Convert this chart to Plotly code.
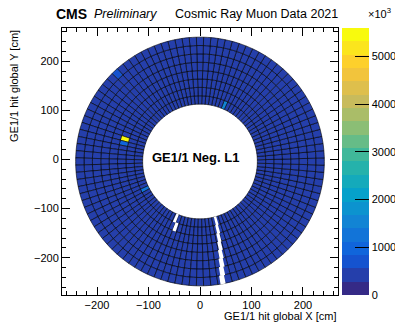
import numpy as np
import plotly.graph_objects as go

# ---------------- data ----------------
N_CHAMBERS = 36          # 10 deg each
N_VFAT_PHI = 3           # VFAT columns per chamber
N_ETA = 8                # eta partitions
R_INNER = 113.0          # cm
R_OUTER = 245.0          # cm
PHI_START = -75.0        # deg, first column edge
BASE_HITS = 420          # typical hits per VFAT cell
# (column index, eta row, hits) for cells that differ from the base level
hot_cells = [(71, 2, 5600), (72, 2, 900), (62, 7, 800), (84, 0, 1300), (42, 0, 1500)]
# dead / uncovered strips: (eta row, phi centre deg, width deg)
dead_regions = [(0, -74.8, 2.4), (1, -75.4, 2.4), (2, -76.1, 2.4), (3, -76.7, 2.4),
                (4, -77.4, 2.4), (5, -78.0, 2.4), (6, -78.7, 2.4), (7, -79.3, 2.4),
                (0, -113.0, 2.6), (1, -110.5, 2.6)]
Z_MAX = 5600
cbar_ticks = [0, 1000, 2000, 3000, 4000, 5000]

# ---------------- ROOT kBird palette, 20 contour levels ----------------
bird_stops = [0.0, 0.125, 0.25, 0.375, 0.5, 0.625, 0.75, 0.875, 1.0]
bird_r = [0.2082, 0.0592, 0.0780, 0.0232, 0.1802, 0.5301, 0.8186, 0.9956, 0.9764]
bird_g = [0.1664, 0.3599, 0.5041, 0.6419, 0.7178, 0.7492, 0.7328, 0.7862, 0.9832]
bird_b = [0.5293, 0.8684, 0.8385, 0.7914, 0.6425, 0.4662, 0.3499, 0.1968, 0.0539]


def bird(f):
    r = np.interp(f, bird_stops, bird_r)
    g = np.interp(f, bird_stops, bird_g)
    b = np.interp(f, bird_stops, bird_b)
    return f"rgb({int(r*255)},{int(g*255)},{int(b*255)})"


NCONT = 20
colorscale = []
for i in range(NCONT):
    c = bird(i / (NCONT - 1))
    colorscale.append([i / NCONT, c])
    colorscale.append([(i + 1) / NCONT, c])

# ---------------- build cells ----------------
n_cols = N_CHAMBERS * N_VFAT_PHI
dphi = 360.0 / n_cols
dr = (R_OUTER - R_INNER) / N_ETA
vals = np.full((n_cols, N_ETA), float(BASE_HITS))
for c, e, v in hot_cells:
    vals[c, e] = v

thetas, bases, radii, colors = [], [], [], []
for c in range(n_cols):
    for e in range(N_ETA):
        thetas.append(PHI_START + (c + 0.5) * dphi)
        bases.append(R_INNER + e * dr)
        radii.append(dr)
        colors.append(vals[c, e])

fig = go.Figure()
# empty cartesian trace to create the frame axes
fig.add_trace(go.Scatter(x=[None], y=[None], showlegend=False, hoverinfo="skip"))

fig.add_trace(go.Barpolar(
    theta=thetas, base=bases, r=radii, width=[dphi] * len(thetas),
    marker=dict(color=colors, colorscale=colorscale, cmin=0, cmax=Z_MAX,
                line=dict(color="black", width=0.6),
                colorbar=dict(x=1.0145, xanchor="left", xref="paper", xpad=0, ypad=0,
                              y=0.5, yanchor="middle", len=1.0, lenmode="fraction",
                              thickness=27, thicknessmode="pixels",
                              outlinewidth=0, ticks="inside", ticklen=14,
                              tickcolor="black", tickwidth=1,
                              tickvals=cbar_ticks, ticktext=[str(t) for t in cbar_ticks],
                              tickfont=dict(family="Liberation Sans", size=11, color="black"),
                              ticklabelposition="outside")),
    showlegend=False, hoverinfo="skip"))

fig.add_trace(go.Barpolar(
    theta=[d[1] for d in dead_regions],
    base=[R_INNER + d[0] * dr - 0.5 for d in dead_regions],
    r=[dr + 1.0 for d in dead_regions],
    width=[d[2] for d in dead_regions],
    marker=dict(color="white", line=dict(color="white", width=0)),
    showlegend=False, hoverinfo="skip"))

font = "Liberation Sans"
axis_common = dict(showline=True, linecolor="black", linewidth=1, mirror="allticks",
                   ticks="inside", ticklen=8, tickcolor="black", tickwidth=1,
                   dtick=100, tick0=0, showgrid=False, zeroline=False,
                   tickfont=dict(family=font, size=11, color="black"),
                   minor=dict(ticks="inside", ticklen=4, dtick=20, tickcolor="black",
                              showgrid=False))
fig.update_layout(
    width=395, height=322,
    margin=dict(l=62, r=57, t=28, b=27, autoexpand=False),
    paper_bgcolor="white", plot_bgcolor="white",
    xaxis=dict(range=[-268, 268], domain=[0, 1], **axis_common),
    yaxis=dict(range=[-276, 268], domain=[0, 1], **axis_common),
    polar=dict(domain=dict(x=[0, 1], y=[0, 1]), bgcolor="rgba(0,0,0,0)",
               radialaxis=dict(range=[0, 263], visible=False, showgrid=False),
               angularaxis=dict(visible=False, showgrid=False, rotation=0,
                                direction="counterclockwise"),
               bargap=0),
    showlegend=False,
)

ann = [
    dict(text="<b>CMS</b>", x=54, y=14, size=14, xanchor="left"),
    dict(text="<i>Preliminary</i>", x=92, y=14, size=12.5, xanchor="left"),
    dict(text="Cosmic Ray Muon Data 2021", x=340, y=14, size=12.5, xanchor="right"),
    dict(text="×10<sup>3</sup>", x=366, y=13, size=11, xanchor="left"),
    dict(text="GE1/1 hit global X [cm]", x=339, y=316, size=11, xanchor="right"),
]
for a in ann:
    fig.add_annotation(text=a["text"], xref="paper", yref="paper",
                       x=(a["x"] - 62) / 276, y=(322 - 27 - a["y"]) / 267,
                       xanchor=a["xanchor"], yanchor="middle", showarrow=False,
                       font=dict(family=font, size=a["size"], color="black"))
fig.add_annotation(text="GE1/1 hit global Y [cm]", xref="paper", yref="paper",
                   x=(14 - 62) / 276, y=(322 - 27 - 86) / 267, textangle=-90,
                   xanchor="center", yanchor="middle", showarrow=False,
                   font=dict(family=font, size=11, color="black"))
fig.add_annotation(text="<b>GE1/1 Neg. L1</b>", x=-8, y=5, xref="x", yref="y",
                   showarrow=False, font=dict(family=font, size=13, color="black"))

fig.write_html("out.html")
